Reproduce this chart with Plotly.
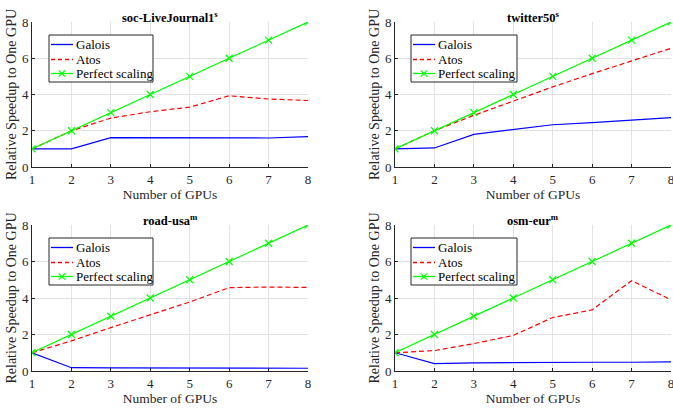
import plotly.graph_objects as go

gpus = [1, 2, 3, 4, 5, 6, 7, 8]
titles = ["soc-LiveJournal1<sup>s</sup>", "twitter50<sup>s</sup>", "road-usa<sup>m</sup>", "osm-eur<sup>m</sup>"]
legend_names = ["Galois", "Atos", "Perfect scaling"]
galois_lj = [1.0, 1.0, 1.62, 1.62, 1.6, 1.6, 1.6, 1.68]
atos_lj = [1.0, 2.0, 2.7, 3.05, 3.3, 3.93, 3.75, 3.67]
galois_tw = [1.0, 1.05, 1.8, 2.05, 2.33, 2.45, 2.57, 2.72]
atos_tw = [1.0, 2.0, 2.85, 3.65, 4.42, 5.15, 5.85, 6.55]
galois_road = [1.0, 0.18, 0.17, 0.17, 0.15, 0.15, 0.15, 0.15]
atos_road = [1.0, 1.65, 2.38, 3.08, 3.78, 4.57, 4.6, 4.58]
galois_osm = [1.0, 0.4, 0.45, 0.47, 0.48, 0.48, 0.48, 0.5]
atos_osm = [1.0, 1.12, 1.5, 1.95, 2.93, 3.35, 4.95, 3.9]
perfect = [1, 2, 3, 4, 5, 6, 7, 8]

series = [(galois_lj, atos_lj), (galois_tw, atos_tw), (galois_road, atos_road), (galois_osm, atos_osm)]

W, H = 673, 409
FONT = "Liberation Serif"
ANN_FONT = "Times New Roman, serif"
AX = "#262626"
BLUE, RED, GREEN = "#0000ff", "#ff0000", "#00ff00"
DASH = "5px,3px"

# panel pixel boxes: (left, right, top, bottom)
boxes = [(32, 308, 22, 167), (395, 671, 22, 167), (32, 308, 225, 371), (395, 671, 225, 371)]
# legend boxes: (left, top, right, bottom)
leg_boxes = [(49, 35, 153, 82), (411, 35, 517, 82), (49, 238, 153, 285), (411, 238, 517, 285)]


def px(x):
    return x / W


def py(y):
    return 1 - y / H


fig = go.Figure()
layout = dict(
    width=W, height=H, margin=dict(l=0, r=0, t=0, b=0),
    paper_bgcolor="white", plot_bgcolor="white",
    font=dict(family=FONT, size=13, color=AX),
    showlegend=False,
)
annotations = []
shapes = []
for i, (box, (gal, atos)) in enumerate(zip(boxes, series)):
    l, r, t, b = box
    xa = "x" if i == 0 else f"x{i+1}"
    ya = "y" if i == 0 else f"y{i+1}"
    fig.add_trace(go.Scatter(x=gpus, y=gal, mode="lines", name=legend_names[0],
                             line=dict(color=BLUE, width=1.2), xaxis=xa, yaxis=ya))
    fig.add_trace(go.Scatter(x=gpus, y=atos, mode="lines", name=legend_names[1],
                             line=dict(color=RED, width=1.2, dash=DASH), xaxis=xa, yaxis=ya))
    fig.add_trace(go.Scatter(x=gpus, y=perfect, mode="lines+markers", name=legend_names[2],
                             line=dict(color=GREEN, width=1.2),
                             marker=dict(symbol="x-thin", size=7, line=dict(color=GREEN, width=1.2)),
                             xaxis=xa, yaxis=ya))
    xkey = "xaxis" if i == 0 else f"xaxis{i+1}"
    ykey = "yaxis" if i == 0 else f"yaxis{i+1}"
    layout[xkey] = dict(domain=[px(l), px(r)], anchor=ya, range=[1, 8], tickvals=gpus,
                        showgrid=True, gridcolor="#e3e3e3", zeroline=False, automargin=False,
                        showline=True, linecolor=AX, linewidth=1, ticks="inside", ticklen=3,
                        tickcolor=AX, tickfont=dict(family=FONT, size=13, color=AX),
                        ticklabeloverflow="allow",
                        title=dict(text="Number of GPUs", font=dict(family=FONT, size=13.5, color=AX), standoff=0))
    layout[ykey] = dict(domain=[py(b), py(t)], anchor=xa, range=[0, 8], tickvals=[0, 2, 4, 6, 8],
                        showgrid=True, gridcolor="#e3e3e3", zeroline=False, automargin=False,
                        showline=True, linecolor=AX, linewidth=1, ticks="inside", ticklen=3,
                        tickcolor=AX, tickfont=dict(family=FONT, size=13, color=AX),
                        ticklabeloverflow="allow",
                        title=dict(text="Relative Speedup to One GPU", font=dict(family=FONT, size=14, color=AX), standoff=2))
    annotations.append(dict(text="<b>" + titles[i] + "</b>", x=px((l + r) / 2), y=py(t - 5),
                            xref="paper", yref="paper", xanchor="center", yanchor="middle",
                            showarrow=False, font=dict(family=ANN_FONT, size=12.5, color="black")))
    # compact MATLAB-style legend box
    L, T, R, B = leg_boxes[i]
    shapes.append(dict(type="rect", xref="paper", yref="paper", x0=px(L), x1=px(R), y0=py(B), y1=py(T),
                       line=dict(color=AX, width=1), fillcolor="white", layer="above"))
    rows = [T + 9.5, T + 24.5, T + 38.5]
    styles = [dict(color=BLUE, width=1.3), dict(color=RED, width=1.5, dash="4px,3px"), dict(color=GREEN, width=1.3)]
    for k in range(3):
        yy = rows[k]
        shapes.append(dict(type="line", xref="paper", yref="paper", x0=px(L + 2), x1=px(L + 24),
                           y0=py(yy), y1=py(yy), line=styles[k], layer="above"))
        annotations.append(dict(text=legend_names[k], x=px(L + 25), y=py(yy), xref="paper", yref="paper",
                                xanchor="left", yanchor="middle", showarrow=False,
                                font=dict(family=ANN_FONT, size=13, color="black")))
    cx, cy = L + 13, rows[2]
    for dx, dy in [(-3.2, -3.2), (-3.2, 3.2)]:
        shapes.append(dict(type="line", xref="paper", yref="paper", x0=px(cx + dx), x1=px(cx - dx),
                           y0=py(cy + dy), y1=py(cy - dy), line=dict(color=GREEN, width=1.2), layer="above"))

layout["annotations"] = annotations
layout["shapes"] = shapes
fig.update_layout(**layout)
fig.write_html("out.html", config={"displayModeBar": False},
               post_script="document.body.style.margin='0';document.body.style.padding='0';")
